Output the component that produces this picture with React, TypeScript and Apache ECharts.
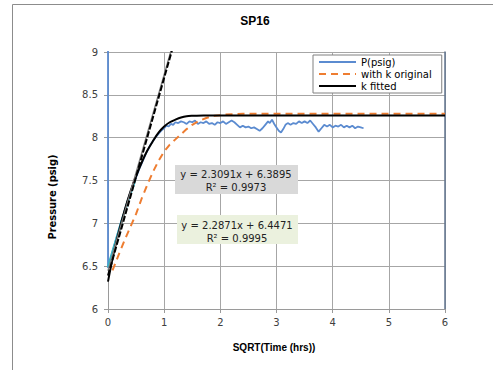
import React, { useEffect, useRef } from "react";
import * as echarts from "echarts";

const xTicks = { min: 0, max: 6, interval: 1 };
const yTicks = { min: 6, max: 9, interval: 0.5 };

const pPsig: [number, number][] = [
  [0, 9.6], [0, 6.48], [0.04, 6.57], [0.08, 6.66], [0.12, 6.76], [0.16, 6.85], [0.2, 6.94],
  [0.24, 7.03], [0.28, 7.11], [0.32, 7.2], [0.36, 7.28], [0.4, 7.36], [0.44, 7.44], [0.48, 7.5],
  [0.52, 7.57], [0.56, 7.64], [0.6, 7.7], [0.64, 7.76], [0.68, 7.82], [0.72, 7.87], [0.76, 7.92],
  [0.8, 7.96], [0.84, 8.0], [0.88, 8.03], [0.92, 8.06], [0.96, 8.09], [1.0, 8.11], [1.04, 8.14],
  [1.08, 8.13], [1.12, 8.16], [1.16, 8.15], [1.2, 8.18], [1.25, 8.17], [1.3, 8.19], [1.35, 8.18],
  [1.4, 8.16], [1.45, 8.19], [1.5, 8.18], [1.55, 8.2], [1.6, 8.16], [1.65, 8.18], [1.7, 8.17],
  [1.75, 8.19], [1.8, 8.16], [1.85, 8.17], [1.9, 8.15], [1.95, 8.18], [2.0, 8.17], [2.05, 8.19],
  [2.1, 8.16], [2.15, 8.18], [2.2, 8.2], [2.25, 8.18], [2.3, 8.15], [2.35, 8.12], [2.4, 8.14],
  [2.45, 8.12], [2.5, 8.13], [2.55, 8.11], [2.6, 8.12], [2.65, 8.1], [2.7, 8.08], [2.75, 8.11],
  [2.8, 8.15], [2.85, 8.19], [2.88, 8.17], [2.92, 8.21], [2.96, 8.16], [3.0, 8.12], [3.04, 8.08],
  [3.08, 8.06], [3.12, 8.1], [3.16, 8.15], [3.2, 8.17], [3.25, 8.15], [3.3, 8.17], [3.35, 8.16],
  [3.4, 8.19], [3.45, 8.17], [3.5, 8.19], [3.55, 8.17], [3.6, 8.2], [3.65, 8.16], [3.7, 8.12],
  [3.75, 8.07], [3.8, 8.11], [3.85, 8.15], [3.9, 8.13], [3.95, 8.15], [4.0, 8.12], [4.05, 8.14],
  [4.1, 8.13], [4.15, 8.15], [4.2, 8.12], [4.25, 8.14], [4.3, 8.12], [4.35, 8.14], [4.4, 8.11],
  [4.45, 8.13], [4.5, 8.12], [4.55, 8.11],
];

const fitDataA: [number, number][] = [
  [0, 6.49], [0.05, 6.6], [0.1, 6.71], [0.15, 6.82], [0.2, 6.93], [0.25, 7.04], [0.3, 7.14],
  [0.35, 7.25], [0.4, 7.35], [0.45, 7.44], [0.48, 7.51],
];

const fitDataB: [number, number][] = [
  [0.04, 6.47], [0.08, 6.58], [0.13, 6.72], [0.18, 6.86], [0.23, 6.98], [0.28, 7.1],
  [0.33, 7.21], [0.38, 7.33], [0.43, 7.44], [0.47, 7.52],
];

const kOriginal: [number, number][] = [
  [0.08, 6.45], [0.2, 6.65], [0.3, 6.81], [0.4, 6.96], [0.5, 7.11], [0.6, 7.29], [0.7, 7.45],
  [0.8, 7.6], [0.9, 7.73], [1.0, 7.84], [1.1, 7.92], [1.2, 7.98], [1.3, 8.04], [1.4, 8.1],
  [1.5, 8.15], [1.6, 8.19], [1.75, 8.23], [1.9, 8.255], [2.1, 8.27], [2.4, 8.28], [3, 8.28],
  [6, 8.28],
];

const kFitted: [number, number][] = [
  [0, 6.32], [0.1, 6.65], [0.2, 6.92], [0.3, 7.16], [0.4, 7.37], [0.5, 7.55], [0.6, 7.71],
  [0.7, 7.85], [0.8, 7.96], [0.9, 8.06], [1.0, 8.13], [1.1, 8.18], [1.2, 8.21], [1.3, 8.235],
  [1.4, 8.25], [1.5, 8.255], [1.7, 8.26], [2.0, 8.26], [6, 8.26],
];

const trendA = { slope: 2.3091, intercept: 6.3895, r2: "0.9973" };
const trendB = { slope: 2.2871, intercept: 6.4471, r2: "0.9995" };
const trendXs = [0, 1.2];

const legendNames = ["P(psig)", "with k original", "k fitted"];

const trendPts = (t: { slope: number; intercept: number }) =>
  trendXs.map((x) => [x, t.slope * x + t.intercept]);

const narrowFont = "'Liberation Sans Narrow', 'Arial Narrow', 'DejaVu Sans Condensed', 'Liberation Sans', sans-serif";

export default function App() {
  const ref = useRef<HTMLDivElement>(null);
  useEffect(() => {
    if (!ref.current) return;
    const chart = echarts.init(ref.current, null, { renderer: "svg" });
    const tickFont = { fontFamily: "DejaVu Sans", fontSize: 10, color: "#404040" };
    chart.setOption({
      animation: false,
      backgroundColor: "#ffffff",
      grid: { left: 108, right: 48, top: 52, bottom: 61, containLabel: false },
      legend: {
        data: legendNames,
        orient: "vertical",
        left: 313,
        top: 55,
        itemWidth: 37,
        itemHeight: 12,
        itemGap: 2,
        padding: [2, 10, 2, 5],
        backgroundColor: "#ffffff",
        borderColor: "#808080",
        borderWidth: 1,
        itemStyle: { opacity: 0 },
        textStyle: { fontFamily: "DejaVu Sans", fontSize: 10, color: "#000" },
      },
      xAxis: {
        type: "value",
        ...xTicks,
        axisLine: { lineStyle: { color: "#9a9a9a" } },
        axisTick: { show: true, length: 4, lineStyle: { color: "#9a9a9a" } },
        axisLabel: { ...tickFont, margin: 8 },
        splitLine: { show: true, lineStyle: { color: "#a6a6a6", width: 1 } },
      },
      yAxis: [
        {
          type: "value",
          ...yTicks,
          axisLine: { show: true, lineStyle: { color: "#9a9a9a" } },
          axisTick: { show: true, length: 4, lineStyle: { color: "#9a9a9a" } },
          axisLabel: { ...tickFont, margin: 10 },
          splitLine: { show: true, lineStyle: { color: "#a6a6a6", width: 1 } },
        },
        {
          type: "value",
          ...yTicks,
          position: "right",
          axisLine: { show: true, lineStyle: { color: "#60748f", width: 1.5 } },
          axisTick: { show: false },
          axisLabel: { show: false },
          splitLine: { show: false },
        },
      ],
      series: [
        {
          name: "P(psig)",
          type: "line",
          data: pPsig,
          showSymbol: false,
          symbol: "none",
          lineStyle: { color: "#5b8bd0", width: 1.8 },
          itemStyle: { color: "#5b8bd0" },
        },
        {
          name: "fitA",
          type: "line",
          data: fitDataA,
          symbol: "none",
          lineStyle: { color: "#37b4c8", width: 2.5 },
        },
        {
          name: "fitB",
          type: "line",
          data: fitDataB,
          symbol: "none",
          lineStyle: { color: "#e58c8c", width: 1.5, type: [2, 2] },
        },
        {
          name: "with k original",
          type: "line",
          data: kOriginal,
          symbol: "none",
          lineStyle: { color: "#ee7d31", width: 2, type: [7, 5] },
          itemStyle: { color: "#ee7d31" },
        },
        {
          name: "k fitted",
          type: "line",
          data: kFitted,
          symbol: "none",
          smooth: 0.3,
          lineStyle: { color: "#000000", width: 2 },
          itemStyle: { color: "#000000" },
        },
        {
          name: "trendB",
          type: "line",
          data: trendPts(trendB),
          symbol: "none",
          lineStyle: { color: "#7f7f7f", width: 1.5 },
        },
        {
          name: "trendA",
          type: "line",
          data: trendPts(trendA),
          symbol: "none",
          lineStyle: { color: "#000000", width: 2, type: [6, 2] },
        },
      ],
      graphic: [
        {
          type: "rect",
          shape: { x: 12.5, y: 4.5, width: 700, height: 700 },
          style: { fill: "none", stroke: "#8c8c8c", lineWidth: 1 },
          silent: true,
        },
        {
          type: "text",
          x: 255,
          y: 21,
          style: {
            text: "SP16",
            textAlign: "center",
            textVerticalAlign: "middle",
            font: "bold 12px 'Liberation Sans', sans-serif",
            fill: "#000",
          },
        },
        {
          type: "text",
          x: 52,
          y: 197,
          rotation: Math.PI / 2,
          style: {
            text: "Pressure (psig)",
            textAlign: "center",
            textVerticalAlign: "middle",
            font: "bold 11px " + narrowFont,
            fill: "#000",
          },
        },
        {
          type: "text",
          x: 274,
          y: 347,
          style: {
            text: "SQRT(Time (hrs))",
            textAlign: "center",
            textVerticalAlign: "middle",
            font: "bold 10px 'Liberation Sans', sans-serif",
            fill: "#000",
          },
        },
        {
          type: "rect",
          shape: { x: 175, y: 165, width: 123, height: 29 },
          style: { fill: "#d9d9d9" },
          z: 100,
        },
        {
          type: "text",
          x: 236,
          y: 174,
          z: 101,
          style: {
            text: `y = ${trendA.slope}x + ${trendA.intercept}`,
            textAlign: "center",
            textVerticalAlign: "middle",
            font: "10px 'DejaVu Sans', sans-serif",
            fill: "#222",
          },
        },
        {
          type: "text",
          x: 236,
          y: 187,
          z: 101,
          style: {
            text: `R² = ${trendA.r2}`,
            textAlign: "center",
            textVerticalAlign: "middle",
            font: "10px 'DejaVu Sans', sans-serif",
            fill: "#222",
          },
        },
        {
          type: "rect",
          shape: { x: 177, y: 215, width: 121, height: 29 },
          style: { fill: "#ebf1de" },
          z: 100,
        },
        {
          type: "text",
          x: 237,
          y: 225,
          z: 101,
          style: {
            text: `y = ${trendB.slope}x + ${trendB.intercept}`,
            textAlign: "center",
            textVerticalAlign: "middle",
            font: "10px 'DejaVu Sans', sans-serif",
            fill: "#222",
          },
        },
        {
          type: "text",
          x: 237,
          y: 238,
          z: 101,
          style: {
            text: `R² = ${trendB.r2}`,
            textAlign: "center",
            textVerticalAlign: "middle",
            font: "10px 'DejaVu Sans', sans-serif",
            fill: "#222",
          },
        },
      ],
    });
    return () => chart.dispose();
  }, []);
  return (
    <div
      ref={ref}
      style={{ position: "absolute", left: 0, top: 0, width: 493, height: 370 }}
    />
  );
}
